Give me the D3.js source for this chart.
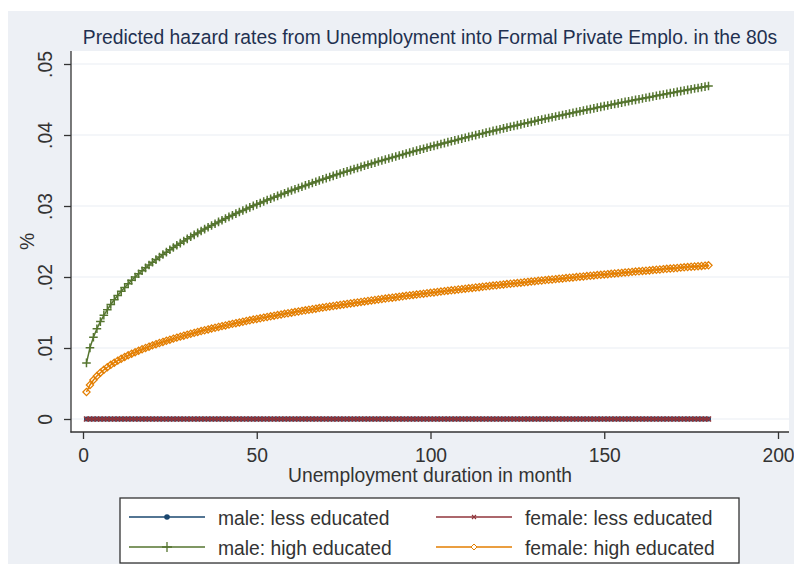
<!DOCTYPE html>
<html>
<head>
<meta charset="utf-8">
<script src="https://cdn.jsdelivr.net/npm/d3@7/dist/d3.min.js"></script>
<style>
  html, body { margin: 0; padding: 0; background: #ffffff; }
  svg { display: block; }
  text { font-family: "Liberation Sans", Arial, sans-serif; }
</style>
</head>
<body>
<script>
// Unemployment duration (months) on the x axis
const months = d3.range(1, 181);

// Predicted hazard rates, one value per month 1..180
const maleLess = [
  0,0,0,0,0,0,0,0,0,0,0,0,0,0,0,0,0,0,0,0,
  0,0,0,0,0,0,0,0,0,0,0,0,0,0,0,0,0,0,0,0,
  0,0,0,0,0,0,0,0,0,0,0,0,0,0,0,0,0,0,0,0,
  0,0,0,0,0,0,0,0,0,0,0,0,0,0,0,0,0,0,0,0,
  0,0,0,0,0,0,0,0,0,0,0,0,0,0,0,0,0,0,0,0,
  0,0,0,0,0,0,0,0,0,0,0,0,0,0,0,0,0,0,0,0,
  0,0,0,0,0,0,0,0,0,0,0,0,0,0,0,0,0,0,0,0,
  0,0,0,0,0,0,0,0,0,0,0,0,0,0,0,0,0,0,0,0,
  0,0,0,0,0,0,0,0,0,0,0,0,0,0,0,0,0,0,0,0
];
const femaleLess = [
  0,0,0,0,0,0,0,0,0,0,0,0,0,0,0,0,0,0,0,0,
  0,0,0,0,0,0,0,0,0,0,0,0,0,0,0,0,0,0,0,0,
  0,0,0,0,0,0,0,0,0,0,0,0,0,0,0,0,0,0,0,0,
  0,0,0,0,0,0,0,0,0,0,0,0,0,0,0,0,0,0,0,0,
  0,0,0,0,0,0,0,0,0,0,0,0,0,0,0,0,0,0,0,0,
  0,0,0,0,0,0,0,0,0,0,0,0,0,0,0,0,0,0,0,0,
  0,0,0,0,0,0,0,0,0,0,0,0,0,0,0,0,0,0,0,0,
  0,0,0,0,0,0,0,0,0,0,0,0,0,0,0,0,0,0,0,0,
  0,0,0,0,0,0,0,0,0,0,0,0,0,0,0,0,0,0,0,0
];
const maleHigh = [
  .00790,.01002,.01152,.01271,.01372,.01461,.01540,.01612,.01679,.01740,
  .01798,.01853,.01904,.01953,.02000,.02045,.02088,.02129,.02169,.02207,
  .02245,.02281,.02316,.02350,.02383,.02415,.02447,.02477,.02507,.02537,
  .02566,.02594,.02621,.02648,.02675,.02700,.02726,.02751,.02776,.02800,
  .02824,.02847,.02870,.02893,.02915,.02937,.02959,.02981,.03002,.03023,
  .03043,.03064,.03084,.03103,.03123,.03142,.03162,.03180,.03199,.03218,
  .03236,.03254,.03272,.03290,.03307,.03325,.03342,.03359,.03376,.03392,
  .03409,.03425,.03442,.03458,.03474,.03489,.03505,.03521,.03536,.03551,
  .03566,.03582,.03596,.03611,.03626,.03640,.03655,.03669,.03684,.03698,
  .03712,.03726,.03740,.03753,.03767,.03780,.03794,.03807,.03821,.03834,
  .03847,.03860,.03873,.03886,.03899,.03911,.03924,.03936,.03949,.03961,
  .03974,.03986,.03998,.04010,.04022,.04034,.04046,.04058,.04069,.04081,
  .04093,.04104,.04116,.04127,.04139,.04150,.04161,.04173,.04184,.04195,
  .04206,.04217,.04228,.04239,.04250,.04260,.04271,.04282,.04292,.04303,
  .04313,.04324,.04334,.04345,.04355,.04365,.04375,.04386,.04396,.04406,
  .04416,.04426,.04436,.04446,.04456,.04466,.04475,.04485,.04495,.04504,
  .04514,.04524,.04533,.04543,.04552,.04562,.04571,.04581,.04590,.04599,
  .04608,.04618,.04627,.04636,.04645,.04654,.04663,.04672,.04681,.04690
];
const femaleHigh = [
  .00380,.00479,.00549,.00605,.00652,.00693,.00729,.00763,.00793,.00822,
  .00849,.00874,.00897,.00920,.00941,.00962,.00982,.01001,.01019,.01037,
  .01054,.01070,.01086,.01102,.01117,.01132,.01146,.01160,.01174,.01187,
  .01201,.01213,.01226,.01238,.01250,.01262,.01274,.01285,.01297,.01308,
  .01318,.01329,.01340,.01350,.01360,.01370,.01380,.01390,.01400,.01409,
  .01418,.01428,.01437,.01446,.01455,.01464,.01472,.01481,.01489,.01498,
  .01506,.01514,.01523,.01531,.01539,.01547,.01554,.01562,.01570,.01577,
  .01585,.01592,.01600,.01607,.01614,.01621,.01628,.01635,.01642,.01649,
  .01656,.01663,.01670,.01677,.01683,.01690,.01696,.01703,.01709,.01716,
  .01722,.01728,.01735,.01741,.01747,.01753,.01759,.01765,.01771,.01777,
  .01783,.01789,.01795,.01801,.01807,.01812,.01818,.01824,.01829,.01835,
  .01841,.01846,.01852,.01857,.01863,.01868,.01873,.01879,.01884,.01889,
  .01895,.01900,.01905,.01910,.01915,.01920,.01926,.01931,.01936,.01941,
  .01946,.01951,.01956,.01960,.01965,.01970,.01975,.01980,.01985,.01989,
  .01994,.01999,.02004,.02008,.02013,.02018,.02022,.02027,.02031,.02036,
  .02040,.02045,.02050,.02054,.02058,.02063,.02067,.02072,.02076,.02080,
  .02085,.02089,.02093,.02098,.02102,.02106,.02111,.02115,.02119,.02123,
  .02127,.02132,.02136,.02140,.02144,.02148,.02152,.02156,.02160,.02164
];

const seriesNames = ["male: less educated", "female: less educated",
                     "male: high educated", "female: high educated"];
const seriesValues = [maleLess, femaleLess, maleHigh, femaleHigh];

const xTicks = [0, 50, 100, 150, 200];
const yTicks = [0, .01, .02, .03, .04, .05];
const yTickLabels = ["0", ".01", ".02", ".03", ".04", ".05"];

const titleText = "Predicted hazard rates from Unemployment into Formal Private Emplo. in the 80s";
const xTitle = "Unemployment duration in month";
const yTitle = "%";

// ---- look and layout ----
const W = 794, H = 564;
const FONT = 19.3;
const styles = [
  { color: "#1a476f", marker: "circle" },
  { color: "#90353b", marker: "x" },
  { color: "#55752f", marker: "plus" },
  { color: "#e37e00", marker: "diamond" }
];
const plot = { left: 71, right: 789, top: 51, bottom: 432 };

const x = d3.scaleLinear().domain([0, 200]).range([83, 778]);
const y = d3.scaleLinear().domain([0, .05]).range([419, 64]);

const svg = d3.select("body").append("svg")
  .attr("width", W).attr("height", H);

// graph region
svg.append("rect").attr("x", 0).attr("y", 0).attr("width", W).attr("height", H)
  .attr("fill", "#ffffff");
svg.append("rect").attr("x", 8).attr("y", 11).attr("width", W - 8).attr("height", H - 11)
  .attr("fill", "#edf0f5");

// plot region
svg.append("rect")
  .attr("x", plot.left).attr("y", plot.top)
  .attr("width", plot.right - plot.left).attr("height", plot.bottom - plot.top)
  .attr("fill", "#ffffff");

// horizontal grid
svg.append("g").selectAll("line").data(yTicks).join("line")
  .attr("x1", plot.left).attr("x2", plot.right)
  .attr("y1", d => y(d)).attr("y2", d => y(d))
  .attr("stroke", "#e9edf3").attr("stroke-width", 1.2);

function markerPath(kind, s) {
  if (kind === "plus") return `M${-s},0H${s}M0,${-s}V${s}`;
  if (kind === "x") return `M${-s},${-s}L${s},${s}M${-s},${s}L${s},${-s}`;
  if (kind === "diamond") return `M0,${-s}L${s},0L0,${s}L${-s},0Z`;
  return "";
}

function drawMarker(g, kind, color, big) {
  if (kind === "circle") {
    g.append("circle").attr("r", big ? 2.8 : 2.5).attr("fill", color);
  } else if (kind === "plus") {
    g.append("path").attr("d", markerPath("plus", big ? 5 : 4.3))
      .attr("fill", "none").attr("stroke", color).attr("stroke-width", big ? 1.3 : 1.5);
  } else if (kind === "x") {
    g.append("path").attr("d", markerPath("x", big ? 2 : 2.5))
      .attr("fill", "none").attr("stroke", color).attr("stroke-width", big ? 1.1 : 1.5);
  } else if (kind === "diamond") {
    g.append("path").attr("d", markerPath("diamond", big ? 3 : 3.6))
      .attr("fill", big ? "#ffffff" : "none").attr("stroke", color)
      .attr("stroke-width", big ? 1 : 1.25);
  }
}

// series: connected lines with markers
const line = d3.line().x(d => x(d.m)).y(d => y(d.v));
const plotG = svg.append("g");
seriesValues.forEach((vals, i) => {
  const pts = vals.map((v, k) => ({ m: months[k], v }));
  const st = styles[i];
  const g = plotG.append("g");
  g.append("path").datum(pts).attr("d", line)
    .attr("fill", "none").attr("stroke", st.color).attr("stroke-width", 1.5);
  g.selectAll("g.mk").data(pts).join("g").attr("class", "mk")
    .attr("transform", d => `translate(${x(d.m)},${y(d.v)})`)
    .each(function () { drawMarker(d3.select(this), st.marker, st.color, false); });
});

// axes
const axisColor = "#333333";
const yAxis = svg.append("g").attr("transform", `translate(${plot.left},0)`)
  .call(d3.axisLeft(y).tickValues(yTicks).tickFormat((d, i) => yTickLabels[i])
    .tickSize(7).tickSizeOuter(0));
yAxis.select(".domain").remove();
yAxis.selectAll(".tick line").attr("stroke", axisColor).attr("stroke-width", 1.3);
yAxis.selectAll(".tick text")
  .attr("x", null).attr("dy", null).attr("y", null)
  .attr("text-anchor", "middle")
  .attr("transform", "translate(-19,0) rotate(-90)")
  .attr("font-size", FONT).attr("fill", "#333333")
  .attr("font-family", "'Liberation Sans', Arial, sans-serif");

const xAxis = svg.append("g").attr("transform", `translate(0,${plot.bottom})`)
  .call(d3.axisBottom(x).tickValues(xTicks).tickSize(7).tickSizeOuter(0));
xAxis.select(".domain").remove();
xAxis.selectAll(".tick line").attr("stroke", axisColor).attr("stroke-width", 1.3);
xAxis.selectAll(".tick text")
  .attr("y", 30).attr("dy", null)
  .attr("font-size", FONT).attr("fill", "#333333")
  .attr("font-family", "'Liberation Sans', Arial, sans-serif");

svg.append("line")
  .attr("x1", plot.left).attr("x2", plot.left)
  .attr("y1", plot.top).attr("y2", plot.bottom + 0.6)
  .attr("stroke", axisColor).attr("stroke-width", 1.3);
svg.append("line")
  .attr("x1", plot.left - 0.6).attr("x2", plot.right)
  .attr("y1", plot.bottom).attr("y2", plot.bottom)
  .attr("stroke", axisColor).attr("stroke-width", 1.3);

// titles
svg.append("text").attr("x", (plot.left + plot.right) / 2).attr("y", 44)
  .attr("text-anchor", "middle").attr("font-size", FONT).attr("fill", "#1f3050")
  .text(titleText);

svg.append("text").attr("x", (plot.left + plot.right) / 2).attr("y", 482)
  .attr("text-anchor", "middle").attr("font-size", FONT).attr("fill", "#333333")
  .text(xTitle);

svg.append("text")
  .attr("transform", `translate(34,${(plot.top + plot.bottom) / 2}) rotate(-90)`)
  .attr("text-anchor", "middle").attr("font-size", FONT).attr("fill", "#333333")
  .text(yTitle);

// legend
const legend = svg.append("g");
legend.append("rect").attr("x", 120).attr("y", 498).attr("width", 619).attr("height", 65)
  .attr("fill", "#ffffff").attr("stroke", "#333333").attr("stroke-width", 1.3);

const colX = [129, 436];
const rowY = [517, 547];
seriesNames.forEach((name, i) => {
  const cx = colX[i % 2], cy = rowY[Math.floor(i / 2)];
  const st = styles[i];
  const g = legend.append("g");
  g.append("line").attr("x1", cx).attr("x2", cx + 76).attr("y1", cy).attr("y2", cy)
    .attr("stroke", st.color).attr("stroke-width", 1.3);
  const mk = g.append("g").attr("transform", `translate(${cx + 38},${cy})`);
  drawMarker(mk, st.marker, st.color, true);
  g.append("text").attr("x", cx + 89).attr("y", cy + 8)
    .attr("font-size", FONT).attr("fill", "#333333").text(name);
});
</script>
</body>
</html>
